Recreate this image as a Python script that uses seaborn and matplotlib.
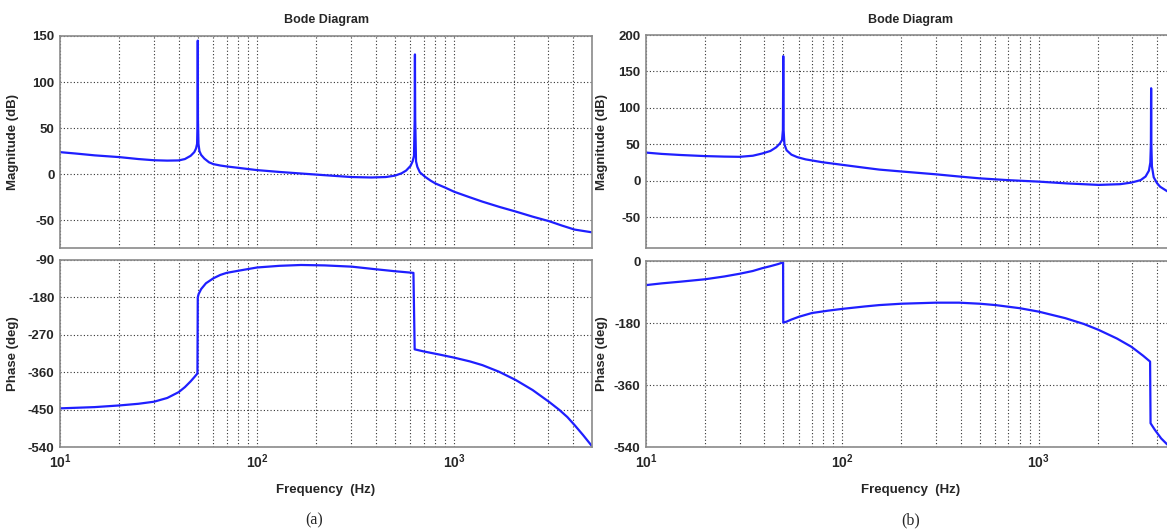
import numpy as np
import matplotlib
matplotlib.use("Agg")
import matplotlib.pyplot as plt
import matplotlib.ticker as mticker
import seaborn as sns

# ---- (a) Bode data ----
freq_a_mag = [10, 12, 15, 20, 25, 30, 35, 40, 43, 46, 48, 49, 49.6, 49.9, 50.0, 50.1, 50.4,
              51, 52, 54, 57, 60, 65, 70, 80, 100, 130, 170, 220, 300, 380, 450, 500, 540,
              570, 600, 615, 625, 630, 632, 634, 640, 650, 670, 714, 760, 803, 900, 1000,
              1200, 1390, 1700, 2055, 2500, 3040, 3500, 4075, 5000]
mag_a = [24, 22.5, 20.5, 18.6, 16.5, 15.2, 14.8, 15, 16.5, 20, 24, 28, 33, 60, 145, 60, 33,
         25, 21, 17, 13, 11, 9.5, 8.5, 7, 4.5, 2.5, 0.7, -1, -3, -3.5, -3, -1.5, 1,
         4, 9, 14, 20, 60, 130, 60, 14, 8, 2, -3, -7, -10, -14.5, -19,
         -25, -29.7, -35.5, -40.5, -46, -51, -55.5, -60, -63]

freq_a_ph = [10, 15, 20, 25, 30, 35, 40, 43, 46, 48, 49.8, 50.0, 50.5, 52, 55, 60, 65, 70,
             80, 100, 130, 167, 220, 302, 395, 500, 621, 630, 700, 850, 1000, 1200, 1390,
             1690, 2055, 2500, 3040, 3420, 3750, 4075, 4500, 5000]
phase_a = [-447, -444, -440, -436, -431, -422, -408, -396, -382, -372, -363, -180, -172,
           -160, -146, -134, -126, -121, -116, -108, -104, -102, -103, -106, -112, -117,
           -121, -305, -310, -318, -325, -334, -343, -359, -379, -403, -432, -451, -468,
           -487, -511, -538]

# ---- (b) Bode data ----
freq_b_mag = [10, 12, 15, 20, 25, 30, 35, 39, 43, 46, 48, 49.3, 49.8, 50.0, 50.2, 50.7, 52,
              55, 59, 65, 79, 100, 130, 154, 202, 300, 393, 500, 700, 1000, 1400, 2018,
              2600, 2963, 3300, 3500, 3640, 3700, 3725, 3735, 3745, 3770, 3850, 4000, 4150,
              4500, 5000]
mag_b = [38.8, 37, 35.5, 34, 33.3, 33, 34.5, 37.5, 41, 46, 51, 56, 70, 171, 70, 50, 42,
         36, 32.5, 29.5, 25.6, 22, 18, 15.5, 12.8, 9, 6, 3.5, 1, -1, -3.5, -5.5,
         -4.5, -2.3, 1, 6, 14, 25, 50, 127, 50, 20, 5, -3, -8, -14, -20]

freq_b_ph = [10, 12, 15, 20, 25, 30, 35, 39, 43, 47, 49.9, 50.0, 52, 55, 60, 70, 85, 100,
             130, 154, 200, 299, 393, 500, 603, 800, 1000, 1366, 1700, 2018, 2500, 2963,
             3400, 3690, 3710, 3900, 4200, 4500, 5000]
phase_b = [-70, -65, -60, -53, -45, -37, -29, -21, -15, -9, -4, -179, -176, -170, -162,
           -151, -144, -139, -132, -128, -124, -121, -121, -124, -128, -137, -147, -166,
           -183, -200, -225, -249, -275, -292, -471, -490, -515, -532, -555]

x_ticks = [10, 100, 1000]
x_tick_labels = [r"$\mathbf{10^{1}}$", r"$\mathbf{10^{2}}$", r"$\mathbf{10^{3}}$"]

mag_ticks_a = [-50, 0, 50, 100, 150]
phase_ticks_a = [-540, -450, -360, -270, -180, -90]
mag_ticks_b = [-50, 0, 50, 100, 150, 200]
phase_ticks_b = [-540, -360, -180, 0]

sns.set_style("white")
plt.rcParams["font.family"] = ["Liberation Sans", "DejaVu Sans"]
plt.rcParams["mathtext.fontset"] = "custom"
plt.rcParams["mathtext.bf"] = "Liberation Sans:bold"
plt.rcParams["mathtext.rm"] = "Liberation Sans"

W, H = 1167, 530
fig = plt.figure(figsize=(W / 100, H / 100), dpi=100)
fig.patch.set_facecolor("white")


def add_axes(left, right, top, bottom):
    return fig.add_axes([left / W, (H - bottom) / H, (right - left) / W, (bottom - top) / H])


LINE = "#1f1fff"
FS = 9.5


def style(ax, ylim, yticks, show_x):
    ax.set_xscale("log")
    ax.set_xlim(10, 5000)
    ax.set_ylim(*ylim)
    ax.set_yticks(yticks)
    ax.set_yticklabels([str(t) for t in yticks], fontsize=FS, fontweight="bold")
    ax.xaxis.set_major_locator(mticker.FixedLocator(x_ticks))
    ax.xaxis.set_minor_locator(mticker.LogLocator(base=10, subs=np.arange(2, 10)))
    ax.xaxis.set_minor_formatter(mticker.NullFormatter())
    if show_x:
        ax.set_xticklabels(x_tick_labels, fontsize=FS + 0.5)
    else:
        ax.set_xticklabels([])
    ax.grid(True, which="major", axis="both", color="#333333", linestyle=(0, (1, 2)), linewidth=0.8)
    ax.grid(True, which="minor", axis="x", color="#333333", linestyle=(0, (1, 2)), linewidth=0.8)
    ax.tick_params(which="both", direction="in", length=3, color="#666666", pad=4)
    ax.tick_params(which="minor", length=2)
    for s in ax.spines.values():
        s.set_color("#8a8a8a")
        s.set_linewidth(1.2)
    ax.set_xlabel("")
    ax.set_ylabel("")


def draw(ax, f, v):
    sns.lineplot(x=f, y=v, ax=ax, color=LINE, linewidth=1.6, sort=False, estimator=None)


# Panel (a)
ax_am = add_axes(60, 592, 36, 248)
draw(ax_am, freq_a_mag, mag_a)
style(ax_am, (-80, 150), mag_ticks_a, False)
ax_am.set_ylabel("Magnitude (dB)", fontsize=FS, fontweight="bold")
ax_am.yaxis.set_label_coords(-0.077, 0.5)

ax_ap = add_axes(60, 592, 260, 447)
draw(ax_ap, freq_a_ph, phase_a)
style(ax_ap, (-540, -90), phase_ticks_a, True)
ax_ap.set_ylabel("Phase (deg)", fontsize=FS, fontweight="bold")
ax_ap.yaxis.set_label_coords(-0.077, 0.5)
ax_ap.set_xlabel("Frequency  (Hz)", fontsize=FS, fontweight="bold")
ax_ap.xaxis.set_label_coords(0.5, -0.2)

# Panel (b)
ax_bm = add_axes(646, 1176, 35, 248)
draw(ax_bm, freq_b_mag, mag_b)
style(ax_bm, (-92, 200), mag_ticks_b, False)
ax_bm.set_ylabel("Magnitude (dB)", fontsize=FS, fontweight="bold")
ax_bm.yaxis.set_label_coords(-0.072, 0.5)

ax_bp = add_axes(646, 1176, 261, 447)
draw(ax_bp, freq_b_ph, phase_b)
style(ax_bp, (-540, 0), phase_ticks_b, True)
ax_bp.set_ylabel("Phase (deg)", fontsize=FS, fontweight="bold")
ax_bp.yaxis.set_label_coords(-0.072, 0.5)
ax_bp.set_xlabel("Frequency  (Hz)", fontsize=FS, fontweight="bold")
ax_bp.xaxis.set_label_coords(0.5, -0.2)

# Titles and sub-figure captions
fig.text(326 / W, (H - 20) / H, "Bode Diagram", ha="center", va="center", fontsize=9, fontweight="bold")
fig.text(910 / W, (H - 20) / H, "Bode Diagram", ha="center", va="center", fontsize=9, fontweight="bold")
fig.text(314 / W, (H - 520) / H, "(a)", ha="center", va="center", fontsize=11.5, family="Liberation Serif")
fig.text(911 / W, (H - 520) / H, "(b)", ha="center", va="center", fontsize=11.5, family="Liberation Serif")

fig.savefig("out.png", dpi=100, facecolor="white")
